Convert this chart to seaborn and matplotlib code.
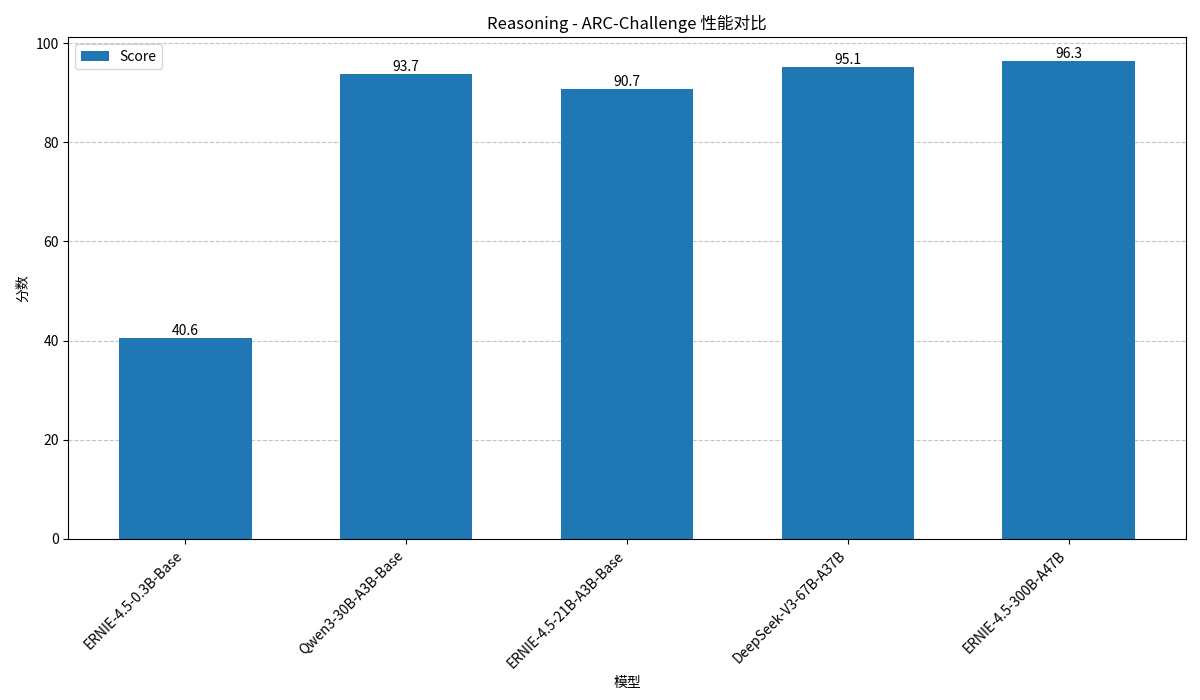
import matplotlib
matplotlib.use("Agg")
import matplotlib.pyplot as plt
import seaborn as sns
import pandas as pd

models = [
    "ERNIE-4.5-0.3B-Base",
    "Qwen3-30B-A3B-Base",
    "ERNIE-4.5-21B-A3B-Base",
    "DeepSeek-V3-67B-A37B",
    "ERNIE-4.5-300B-A47B",
]
scores = [40.6, 93.7, 90.7, 95.1, 96.3]

plt.rcParams['font.family'] = ['Noto Sans CJK SC', 'DejaVu Sans']
plt.rcParams['axes.unicode_minus'] = False

df = pd.DataFrame({"model": models, "score": scores})

fig, ax = plt.subplots(figsize=(12, 7), dpi=100)
sns.barplot(data=df, x="model", y="score", color="#1f77b4", saturation=1,
            width=0.6, label="Score", ax=ax)

# value labels on top of bars
for c in ax.containers:
    ax.bar_label(c, fmt="%.1f", fontsize=10)

ax.set_xlim(-0.53, 4.53)
ax.set_ylim(0, 101.2)
ax.set_title("Reasoning - ARC-Challenge 性能对比")
ax.set_xlabel("模型")
ax.set_ylabel("分数")
ax.grid(axis="y", linestyle="--", alpha=0.75)
ax.set_axisbelow(True)
plt.setp(ax.get_xticklabels(), rotation=45, ha="right")
ax.legend(loc="upper left")

fig.subplots_adjust(left=0.057, right=0.988, top=0.947, bottom=0.23)
plt.savefig("out.png", dpi=100)
